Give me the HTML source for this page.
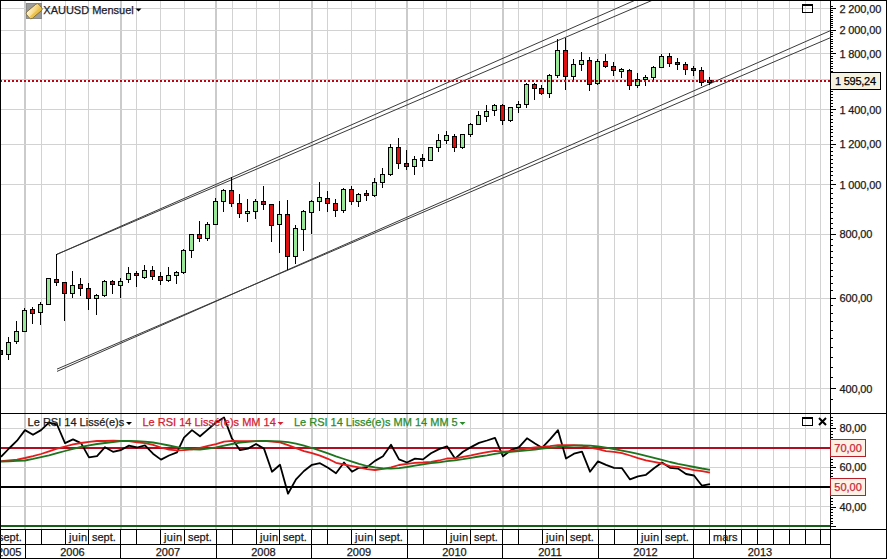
<!DOCTYPE html>
<html><head><meta charset="utf-8"><style>
html,body{margin:0;padding:0;width:887px;height:559px;overflow:hidden;background:#fff}
body{position:relative;font-family:'Liberation Sans', sans-serif}
</style></head><body>
<svg width="887" height="559" viewBox="0 0 887 559" style="position:absolute;left:0;top:0;font-family:'Liberation Sans', sans-serif;font-size:11px"><style>text{stroke-width:0.25px}</style><rect x="0" y="0" width="887" height="559" fill="#ffffff"/><g shape-rendering="crispEdges"><rect x="24" y="1" width="2" height="412" fill="#cbcbcb"/><rect x="120" y="1" width="2" height="412" fill="#cbcbcb"/><rect x="215" y="1" width="2" height="412" fill="#cbcbcb"/><rect x="311" y="1" width="2" height="412" fill="#cbcbcb"/><rect x="406" y="1" width="2" height="412" fill="#cbcbcb"/><rect x="502" y="1" width="2" height="412" fill="#cbcbcb"/><rect x="597" y="1" width="2" height="412" fill="#cbcbcb"/><rect x="693" y="1" width="2" height="412" fill="#cbcbcb"/><rect x="41" y="1" width="1" height="412" fill="#d2d2d2"/><rect x="65" y="1" width="1" height="412" fill="#d2d2d2"/><rect x="88" y="1" width="1" height="412" fill="#d2d2d2"/><rect x="136" y="1" width="1" height="412" fill="#d2d2d2"/><rect x="160" y="1" width="1" height="412" fill="#d2d2d2"/><rect x="184" y="1" width="1" height="412" fill="#d2d2d2"/><rect x="232" y="1" width="1" height="412" fill="#d2d2d2"/><rect x="256" y="1" width="1" height="412" fill="#d2d2d2"/><rect x="279" y="1" width="1" height="412" fill="#d2d2d2"/><rect x="327" y="1" width="1" height="412" fill="#d2d2d2"/><rect x="351" y="1" width="1" height="412" fill="#d2d2d2"/><rect x="375" y="1" width="1" height="412" fill="#d2d2d2"/><rect x="423" y="1" width="1" height="412" fill="#d2d2d2"/><rect x="446" y="1" width="1" height="412" fill="#d2d2d2"/><rect x="470" y="1" width="1" height="412" fill="#d2d2d2"/><rect x="518" y="1" width="1" height="412" fill="#d2d2d2"/><rect x="542" y="1" width="1" height="412" fill="#d2d2d2"/><rect x="566" y="1" width="1" height="412" fill="#d2d2d2"/><rect x="614" y="1" width="1" height="412" fill="#d2d2d2"/><rect x="637" y="1" width="1" height="412" fill="#d2d2d2"/><rect x="661" y="1" width="1" height="412" fill="#d2d2d2"/><rect x="709" y="1" width="1" height="412" fill="#d2d2d2"/><rect x="725" y="1" width="1" height="412" fill="#d2d2d2"/><rect x="741" y="1" width="1" height="412" fill="#d2d2d2"/><rect x="757" y="1" width="1" height="412" fill="#d2d2d2"/><rect x="773" y="1" width="1" height="412" fill="#d2d2d2"/><rect x="789" y="1" width="1" height="412" fill="#d2d2d2"/><rect x="805" y="1" width="1" height="412" fill="#d2d2d2"/><rect x="820" y="1" width="1" height="412" fill="#d2d2d2"/><rect x="1" y="8" width="829" height="1" fill="#d2d2d2"/><rect x="1" y="30" width="829" height="1" fill="#d2d2d2"/><rect x="1" y="53" width="829" height="1" fill="#d2d2d2"/><rect x="1" y="79" width="829" height="1" fill="#d2d2d2"/><rect x="1" y="109" width="829" height="1" fill="#d2d2d2"/><rect x="1" y="144" width="829" height="1" fill="#d2d2d2"/><rect x="1" y="184" width="829" height="1" fill="#d2d2d2"/><rect x="1" y="234" width="829" height="1" fill="#d2d2d2"/><rect x="1" y="298" width="829" height="1" fill="#d2d2d2"/><rect x="1" y="388" width="829" height="1" fill="#d2d2d2"/><rect x="24" y="414" width="2" height="115" fill="#cbcbcb"/><rect x="120" y="414" width="2" height="115" fill="#cbcbcb"/><rect x="215" y="414" width="2" height="115" fill="#cbcbcb"/><rect x="311" y="414" width="2" height="115" fill="#cbcbcb"/><rect x="406" y="414" width="2" height="115" fill="#cbcbcb"/><rect x="502" y="414" width="2" height="115" fill="#cbcbcb"/><rect x="597" y="414" width="2" height="115" fill="#cbcbcb"/><rect x="693" y="414" width="2" height="115" fill="#cbcbcb"/><rect x="41" y="414" width="1" height="115" fill="#d2d2d2"/><rect x="65" y="414" width="1" height="115" fill="#d2d2d2"/><rect x="88" y="414" width="1" height="115" fill="#d2d2d2"/><rect x="136" y="414" width="1" height="115" fill="#d2d2d2"/><rect x="160" y="414" width="1" height="115" fill="#d2d2d2"/><rect x="184" y="414" width="1" height="115" fill="#d2d2d2"/><rect x="232" y="414" width="1" height="115" fill="#d2d2d2"/><rect x="256" y="414" width="1" height="115" fill="#d2d2d2"/><rect x="279" y="414" width="1" height="115" fill="#d2d2d2"/><rect x="327" y="414" width="1" height="115" fill="#d2d2d2"/><rect x="351" y="414" width="1" height="115" fill="#d2d2d2"/><rect x="375" y="414" width="1" height="115" fill="#d2d2d2"/><rect x="423" y="414" width="1" height="115" fill="#d2d2d2"/><rect x="446" y="414" width="1" height="115" fill="#d2d2d2"/><rect x="470" y="414" width="1" height="115" fill="#d2d2d2"/><rect x="518" y="414" width="1" height="115" fill="#d2d2d2"/><rect x="542" y="414" width="1" height="115" fill="#d2d2d2"/><rect x="566" y="414" width="1" height="115" fill="#d2d2d2"/><rect x="614" y="414" width="1" height="115" fill="#d2d2d2"/><rect x="637" y="414" width="1" height="115" fill="#d2d2d2"/><rect x="661" y="414" width="1" height="115" fill="#d2d2d2"/><rect x="709" y="414" width="1" height="115" fill="#d2d2d2"/><rect x="725" y="414" width="1" height="115" fill="#d2d2d2"/><rect x="741" y="414" width="1" height="115" fill="#d2d2d2"/><rect x="757" y="414" width="1" height="115" fill="#d2d2d2"/><rect x="773" y="414" width="1" height="115" fill="#d2d2d2"/><rect x="789" y="414" width="1" height="115" fill="#d2d2d2"/><rect x="805" y="414" width="1" height="115" fill="#d2d2d2"/><rect x="820" y="414" width="1" height="115" fill="#d2d2d2"/><rect x="1" y="428" width="829" height="1" fill="#d2d2d2"/><rect x="1" y="467" width="829" height="1" fill="#d2d2d2"/><rect x="1" y="506" width="829" height="1" fill="#d2d2d2"/></g><g stroke="#3a3a3a" stroke-width="1" fill="none"><line x1="56.5" y1="254.5" x2="635.5671217292378" y2="0"/><line x1="56.5" y1="254.5" x2="652.9377782985704" y2="0"/><line x1="57" y1="371.4" x2="830" y2="30.81619999999998"/><line x1="57" y1="369.1" x2="830" y2="37.869500000000016"/></g><g shape-rendering="crispEdges"><rect x="0" y="350" width="1" height="5" fill="#000"/><rect x="-2" y="350" width="5" height="5" fill="#000"/><rect x="-1" y="351" width="3" height="3" fill="#e01010"/><rect x="8" y="337" width="1" height="23" fill="#000"/><rect x="6" y="342" width="5" height="13" fill="#000"/><rect x="7" y="343" width="3" height="11" fill="#98e898"/><rect x="16" y="321" width="1" height="23" fill="#000"/><rect x="14" y="331" width="5" height="11" fill="#000"/><rect x="15" y="332" width="3" height="9" fill="#98e898"/><rect x="24" y="308" width="1" height="24" fill="#000"/><rect x="22" y="310" width="5" height="22" fill="#000"/><rect x="23" y="311" width="3" height="20" fill="#98e898"/><rect x="32" y="307" width="1" height="17" fill="#000"/><rect x="30" y="309" width="5" height="5" fill="#000"/><rect x="31" y="310" width="3" height="3" fill="#e01010"/><rect x="40" y="302" width="1" height="23" fill="#000"/><rect x="38" y="304" width="5" height="9" fill="#000"/><rect x="39" y="305" width="3" height="7" fill="#98e898"/><rect x="48" y="278" width="1" height="27" fill="#000"/><rect x="46" y="278" width="5" height="27" fill="#000"/><rect x="47" y="279" width="3" height="25" fill="#98e898"/><rect x="56" y="254" width="1" height="32" fill="#000"/><rect x="54" y="279" width="5" height="4" fill="#000"/><rect x="55" y="280" width="3" height="2" fill="#b01828"/><rect x="64" y="282" width="1" height="39" fill="#000"/><rect x="62" y="282" width="5" height="12" fill="#000"/><rect x="63" y="283" width="3" height="10" fill="#e01010"/><rect x="72" y="271" width="1" height="27" fill="#000"/><rect x="70" y="285" width="5" height="9" fill="#000"/><rect x="71" y="286" width="3" height="7" fill="#98e898"/><rect x="80" y="278" width="1" height="18" fill="#000"/><rect x="78" y="284" width="5" height="5" fill="#000"/><rect x="79" y="285" width="3" height="3" fill="#e01010"/><rect x="88" y="283" width="1" height="27" fill="#000"/><rect x="86" y="288" width="5" height="11" fill="#000"/><rect x="87" y="289" width="3" height="9" fill="#e01010"/><rect x="96" y="294" width="1" height="21" fill="#000"/><rect x="94" y="295" width="5" height="4" fill="#000"/><rect x="95" y="296" width="3" height="2" fill="#98e898"/><rect x="104" y="280" width="1" height="17" fill="#000"/><rect x="102" y="281" width="5" height="15" fill="#000"/><rect x="103" y="282" width="3" height="13" fill="#98e898"/><rect x="112" y="280" width="1" height="14" fill="#000"/><rect x="110" y="281" width="5" height="4" fill="#000"/><rect x="111" y="282" width="3" height="2" fill="#b01828"/><rect x="120" y="278" width="1" height="20" fill="#000"/><rect x="118" y="281" width="5" height="5" fill="#000"/><rect x="119" y="282" width="3" height="3" fill="#98e898"/><rect x="128" y="267" width="1" height="16" fill="#000"/><rect x="126" y="273" width="5" height="7" fill="#000"/><rect x="127" y="274" width="3" height="5" fill="#98e898"/><rect x="136" y="271" width="1" height="16" fill="#000"/><rect x="134" y="273" width="5" height="3" fill="#000"/><rect x="135" y="274" width="3" height="1" fill="#b01828"/><rect x="144" y="265" width="1" height="14" fill="#000"/><rect x="142" y="270" width="5" height="8" fill="#000"/><rect x="143" y="271" width="3" height="6" fill="#98e898"/><rect x="152" y="266" width="1" height="14" fill="#000"/><rect x="150" y="270" width="5" height="7" fill="#000"/><rect x="151" y="271" width="3" height="5" fill="#e01010"/><rect x="160" y="272" width="1" height="13" fill="#000"/><rect x="158" y="276" width="5" height="5" fill="#000"/><rect x="159" y="277" width="3" height="3" fill="#e01010"/><rect x="168" y="267" width="1" height="15" fill="#000"/><rect x="166" y="275" width="5" height="6" fill="#000"/><rect x="167" y="276" width="3" height="4" fill="#98e898"/><rect x="176" y="271" width="1" height="13" fill="#000"/><rect x="174" y="272" width="5" height="4" fill="#000"/><rect x="175" y="273" width="3" height="2" fill="#98e898"/><rect x="183" y="249" width="1" height="25" fill="#000"/><rect x="181" y="250" width="5" height="23" fill="#000"/><rect x="182" y="251" width="3" height="21" fill="#98e898"/><rect x="191" y="234" width="1" height="24" fill="#000"/><rect x="189" y="234" width="5" height="17" fill="#000"/><rect x="190" y="235" width="3" height="15" fill="#98e898"/><rect x="199" y="221" width="1" height="21" fill="#000"/><rect x="197" y="234" width="5" height="5" fill="#000"/><rect x="198" y="235" width="3" height="3" fill="#e01010"/><rect x="207" y="222" width="1" height="19" fill="#000"/><rect x="205" y="224" width="5" height="15" fill="#000"/><rect x="206" y="225" width="3" height="13" fill="#98e898"/><rect x="215" y="198" width="1" height="27" fill="#000"/><rect x="213" y="201" width="5" height="24" fill="#000"/><rect x="214" y="202" width="3" height="22" fill="#98e898"/><rect x="223" y="189" width="1" height="23" fill="#000"/><rect x="221" y="190" width="5" height="12" fill="#000"/><rect x="222" y="191" width="3" height="10" fill="#98e898"/><rect x="231" y="177" width="1" height="30" fill="#000"/><rect x="229" y="190" width="5" height="14" fill="#000"/><rect x="230" y="191" width="3" height="12" fill="#e01010"/><rect x="239" y="194" width="1" height="24" fill="#000"/><rect x="237" y="203" width="5" height="11" fill="#000"/><rect x="238" y="204" width="3" height="9" fill="#e01010"/><rect x="247" y="199" width="1" height="23" fill="#000"/><rect x="245" y="211" width="5" height="3" fill="#000"/><rect x="246" y="212" width="3" height="1" fill="#98e898"/><rect x="255" y="199" width="1" height="20" fill="#000"/><rect x="253" y="201" width="5" height="11" fill="#000"/><rect x="254" y="202" width="3" height="9" fill="#98e898"/><rect x="263" y="186" width="1" height="24" fill="#000"/><rect x="261" y="201" width="5" height="4" fill="#000"/><rect x="262" y="202" width="3" height="2" fill="#b01828"/><rect x="271" y="204" width="1" height="38" fill="#000"/><rect x="269" y="204" width="5" height="22" fill="#000"/><rect x="270" y="205" width="3" height="20" fill="#e01010"/><rect x="279" y="201" width="1" height="52" fill="#000"/><rect x="277" y="214" width="5" height="11" fill="#000"/><rect x="278" y="215" width="3" height="9" fill="#98e898"/><rect x="287" y="200" width="1" height="70" fill="#000"/><rect x="285" y="214" width="5" height="43" fill="#000"/><rect x="286" y="215" width="3" height="41" fill="#e01010"/><rect x="295" y="225" width="1" height="39" fill="#000"/><rect x="293" y="228" width="5" height="29" fill="#000"/><rect x="294" y="229" width="3" height="27" fill="#98e898"/><rect x="303" y="210" width="1" height="41" fill="#000"/><rect x="301" y="211" width="5" height="19" fill="#000"/><rect x="302" y="212" width="3" height="17" fill="#98e898"/><rect x="311" y="200" width="1" height="34" fill="#000"/><rect x="309" y="201" width="5" height="12" fill="#000"/><rect x="310" y="202" width="3" height="10" fill="#98e898"/><rect x="319" y="182" width="1" height="29" fill="#000"/><rect x="317" y="197" width="5" height="5" fill="#000"/><rect x="318" y="198" width="3" height="3" fill="#98e898"/><rect x="327" y="191" width="1" height="21" fill="#000"/><rect x="325" y="198" width="5" height="6" fill="#000"/><rect x="326" y="199" width="3" height="4" fill="#e01010"/><rect x="335" y="199" width="1" height="18" fill="#000"/><rect x="333" y="203" width="5" height="8" fill="#000"/><rect x="334" y="204" width="3" height="6" fill="#e01010"/><rect x="343" y="188" width="1" height="25" fill="#000"/><rect x="341" y="189" width="5" height="22" fill="#000"/><rect x="342" y="190" width="3" height="20" fill="#98e898"/><rect x="351" y="186" width="1" height="19" fill="#000"/><rect x="349" y="189" width="5" height="13" fill="#000"/><rect x="350" y="190" width="3" height="11" fill="#e01010"/><rect x="358" y="193" width="1" height="14" fill="#000"/><rect x="356" y="194" width="5" height="8" fill="#000"/><rect x="357" y="195" width="3" height="6" fill="#98e898"/><rect x="366" y="190" width="1" height="11" fill="#000"/><rect x="364" y="193" width="5" height="3" fill="#000"/><rect x="365" y="194" width="3" height="1" fill="#b01828"/><rect x="374" y="178" width="1" height="19" fill="#000"/><rect x="372" y="182" width="5" height="14" fill="#000"/><rect x="373" y="183" width="3" height="12" fill="#98e898"/><rect x="382" y="168" width="1" height="20" fill="#000"/><rect x="380" y="174" width="5" height="9" fill="#000"/><rect x="381" y="175" width="3" height="7" fill="#98e898"/><rect x="390" y="144" width="1" height="32" fill="#000"/><rect x="388" y="147" width="5" height="28" fill="#000"/><rect x="389" y="148" width="3" height="26" fill="#98e898"/><rect x="398" y="138" width="1" height="31" fill="#000"/><rect x="396" y="147" width="5" height="17" fill="#000"/><rect x="397" y="148" width="3" height="15" fill="#e01010"/><rect x="406" y="150" width="1" height="20" fill="#000"/><rect x="404" y="163" width="5" height="4" fill="#000"/><rect x="405" y="164" width="3" height="2" fill="#b01828"/><rect x="414" y="156" width="1" height="19" fill="#000"/><rect x="412" y="159" width="5" height="8" fill="#000"/><rect x="413" y="160" width="3" height="6" fill="#98e898"/><rect x="422" y="154" width="1" height="13" fill="#000"/><rect x="420" y="158" width="5" height="3" fill="#000"/><rect x="421" y="159" width="3" height="1" fill="#b01828"/><rect x="430" y="147" width="1" height="13" fill="#000"/><rect x="428" y="147" width="5" height="14" fill="#000"/><rect x="429" y="148" width="3" height="12" fill="#98e898"/><rect x="438" y="134" width="1" height="18" fill="#000"/><rect x="436" y="140" width="5" height="8" fill="#000"/><rect x="437" y="141" width="3" height="6" fill="#98e898"/><rect x="446" y="131" width="1" height="13" fill="#000"/><rect x="444" y="135" width="5" height="6" fill="#000"/><rect x="445" y="136" width="3" height="4" fill="#98e898"/><rect x="454" y="134" width="1" height="18" fill="#000"/><rect x="452" y="136" width="5" height="12" fill="#000"/><rect x="453" y="137" width="3" height="10" fill="#e01010"/><rect x="462" y="134" width="1" height="15" fill="#000"/><rect x="460" y="134" width="5" height="14" fill="#000"/><rect x="461" y="135" width="3" height="12" fill="#98e898"/><rect x="470" y="123" width="1" height="14" fill="#000"/><rect x="468" y="124" width="5" height="11" fill="#000"/><rect x="469" y="125" width="3" height="9" fill="#98e898"/><rect x="478" y="111" width="1" height="13" fill="#000"/><rect x="476" y="115" width="5" height="10" fill="#000"/><rect x="477" y="116" width="3" height="8" fill="#98e898"/><rect x="486" y="105" width="1" height="17" fill="#000"/><rect x="484" y="111" width="5" height="6" fill="#000"/><rect x="485" y="112" width="3" height="4" fill="#98e898"/><rect x="494" y="104" width="1" height="12" fill="#000"/><rect x="492" y="105" width="5" height="6" fill="#000"/><rect x="493" y="106" width="3" height="4" fill="#98e898"/><rect x="502" y="104" width="1" height="21" fill="#000"/><rect x="500" y="105" width="5" height="16" fill="#000"/><rect x="501" y="106" width="3" height="14" fill="#e01010"/><rect x="510" y="107" width="1" height="15" fill="#000"/><rect x="508" y="107" width="5" height="14" fill="#000"/><rect x="509" y="108" width="3" height="12" fill="#98e898"/><rect x="518" y="101" width="1" height="12" fill="#000"/><rect x="516" y="104" width="5" height="4" fill="#000"/><rect x="517" y="105" width="3" height="2" fill="#98e898"/><rect x="526" y="83" width="1" height="25" fill="#000"/><rect x="524" y="84" width="5" height="21" fill="#000"/><rect x="525" y="85" width="3" height="19" fill="#98e898"/><rect x="534" y="83" width="1" height="17" fill="#000"/><rect x="532" y="84" width="5" height="5" fill="#000"/><rect x="533" y="85" width="3" height="3" fill="#e01010"/><rect x="541" y="85" width="1" height="10" fill="#000"/><rect x="539" y="88" width="5" height="6" fill="#000"/><rect x="540" y="89" width="3" height="4" fill="#e01010"/><rect x="549" y="74" width="1" height="24" fill="#000"/><rect x="547" y="75" width="5" height="19" fill="#000"/><rect x="548" y="76" width="3" height="17" fill="#98e898"/><rect x="557" y="39" width="1" height="39" fill="#000"/><rect x="555" y="50" width="5" height="26" fill="#000"/><rect x="556" y="51" width="3" height="24" fill="#98e898"/><rect x="565" y="38" width="1" height="52" fill="#000"/><rect x="563" y="50" width="5" height="27" fill="#000"/><rect x="564" y="51" width="3" height="25" fill="#e01010"/><rect x="573" y="59" width="1" height="21" fill="#000"/><rect x="571" y="64" width="5" height="13" fill="#000"/><rect x="572" y="65" width="3" height="11" fill="#98e898"/><rect x="581" y="52" width="1" height="19" fill="#000"/><rect x="579" y="60" width="5" height="5" fill="#000"/><rect x="580" y="61" width="3" height="3" fill="#98e898"/><rect x="589" y="57" width="1" height="34" fill="#000"/><rect x="587" y="60" width="5" height="25" fill="#000"/><rect x="588" y="61" width="3" height="23" fill="#e01010"/><rect x="597" y="59" width="1" height="26" fill="#000"/><rect x="595" y="61" width="5" height="23" fill="#000"/><rect x="596" y="62" width="3" height="21" fill="#98e898"/><rect x="605" y="54" width="1" height="14" fill="#000"/><rect x="603" y="61" width="5" height="6" fill="#000"/><rect x="604" y="62" width="3" height="4" fill="#e01010"/><rect x="613" y="62" width="1" height="14" fill="#000"/><rect x="611" y="66" width="5" height="5" fill="#000"/><rect x="612" y="67" width="3" height="3" fill="#e01010"/><rect x="621" y="68" width="1" height="10" fill="#000"/><rect x="619" y="69" width="5" height="3" fill="#000"/><rect x="620" y="70" width="3" height="1" fill="#98e898"/><rect x="629" y="69" width="1" height="21" fill="#000"/><rect x="627" y="70" width="5" height="16" fill="#000"/><rect x="628" y="71" width="3" height="14" fill="#e01010"/><rect x="637" y="73" width="1" height="15" fill="#000"/><rect x="635" y="79" width="5" height="7" fill="#000"/><rect x="636" y="80" width="3" height="5" fill="#98e898"/><rect x="645" y="75" width="1" height="11" fill="#000"/><rect x="643" y="77" width="5" height="3" fill="#000"/><rect x="644" y="78" width="3" height="1" fill="#98e898"/><rect x="653" y="66" width="1" height="14" fill="#000"/><rect x="651" y="67" width="5" height="11" fill="#000"/><rect x="652" y="68" width="3" height="9" fill="#98e898"/><rect x="661" y="54" width="1" height="14" fill="#000"/><rect x="659" y="56" width="5" height="12" fill="#000"/><rect x="660" y="57" width="3" height="10" fill="#98e898"/><rect x="669" y="53" width="1" height="14" fill="#000"/><rect x="667" y="56" width="5" height="8" fill="#000"/><rect x="668" y="57" width="3" height="6" fill="#e01010"/><rect x="677" y="58" width="1" height="12" fill="#000"/><rect x="675" y="62" width="5" height="3" fill="#000"/><rect x="676" y="63" width="3" height="1" fill="#b01828"/><rect x="685" y="62" width="1" height="13" fill="#000"/><rect x="683" y="64" width="5" height="6" fill="#000"/><rect x="684" y="65" width="3" height="4" fill="#e01010"/><rect x="693" y="66" width="1" height="10" fill="#000"/><rect x="691" y="68" width="5" height="3" fill="#000"/><rect x="692" y="69" width="3" height="1" fill="#b01828"/><rect x="701" y="67" width="1" height="19" fill="#000"/><rect x="699" y="70" width="5" height="13" fill="#000"/><rect x="700" y="71" width="3" height="11" fill="#e01010"/><rect x="709" y="77" width="1" height="8" fill="#000"/><rect x="707" y="80" width="5" height="3" fill="#000"/><rect x="708" y="81" width="3" height="1" fill="#b01828"/></g><g shape-rendering="crispEdges" fill="#c2000e"><rect x="0" y="80" width="2" height="2"/><rect x="4" y="80" width="2" height="2"/><rect x="8" y="80" width="2" height="2"/><rect x="12" y="80" width="2" height="2"/><rect x="16" y="80" width="2" height="2"/><rect x="20" y="80" width="2" height="2"/><rect x="24" y="80" width="2" height="2"/><rect x="28" y="80" width="2" height="2"/><rect x="32" y="80" width="2" height="2"/><rect x="36" y="80" width="2" height="2"/><rect x="40" y="80" width="2" height="2"/><rect x="44" y="80" width="2" height="2"/><rect x="48" y="80" width="2" height="2"/><rect x="52" y="80" width="2" height="2"/><rect x="56" y="80" width="2" height="2"/><rect x="60" y="80" width="2" height="2"/><rect x="64" y="80" width="2" height="2"/><rect x="68" y="80" width="2" height="2"/><rect x="72" y="80" width="2" height="2"/><rect x="76" y="80" width="2" height="2"/><rect x="80" y="80" width="2" height="2"/><rect x="84" y="80" width="2" height="2"/><rect x="88" y="80" width="2" height="2"/><rect x="92" y="80" width="2" height="2"/><rect x="96" y="80" width="2" height="2"/><rect x="100" y="80" width="2" height="2"/><rect x="104" y="80" width="2" height="2"/><rect x="108" y="80" width="2" height="2"/><rect x="112" y="80" width="2" height="2"/><rect x="116" y="80" width="2" height="2"/><rect x="120" y="80" width="2" height="2"/><rect x="124" y="80" width="2" height="2"/><rect x="128" y="80" width="2" height="2"/><rect x="132" y="80" width="2" height="2"/><rect x="136" y="80" width="2" height="2"/><rect x="140" y="80" width="2" height="2"/><rect x="144" y="80" width="2" height="2"/><rect x="148" y="80" width="2" height="2"/><rect x="152" y="80" width="2" height="2"/><rect x="156" y="80" width="2" height="2"/><rect x="160" y="80" width="2" height="2"/><rect x="164" y="80" width="2" height="2"/><rect x="168" y="80" width="2" height="2"/><rect x="172" y="80" width="2" height="2"/><rect x="176" y="80" width="2" height="2"/><rect x="180" y="80" width="2" height="2"/><rect x="184" y="80" width="2" height="2"/><rect x="188" y="80" width="2" height="2"/><rect x="192" y="80" width="2" height="2"/><rect x="196" y="80" width="2" height="2"/><rect x="200" y="80" width="2" height="2"/><rect x="204" y="80" width="2" height="2"/><rect x="208" y="80" width="2" height="2"/><rect x="212" y="80" width="2" height="2"/><rect x="216" y="80" width="2" height="2"/><rect x="220" y="80" width="2" height="2"/><rect x="224" y="80" width="2" height="2"/><rect x="228" y="80" width="2" height="2"/><rect x="232" y="80" width="2" height="2"/><rect x="236" y="80" width="2" height="2"/><rect x="240" y="80" width="2" height="2"/><rect x="244" y="80" width="2" height="2"/><rect x="248" y="80" width="2" height="2"/><rect x="252" y="80" width="2" height="2"/><rect x="256" y="80" width="2" height="2"/><rect x="260" y="80" width="2" height="2"/><rect x="264" y="80" width="2" height="2"/><rect x="268" y="80" width="2" height="2"/><rect x="272" y="80" width="2" height="2"/><rect x="276" y="80" width="2" height="2"/><rect x="280" y="80" width="2" height="2"/><rect x="284" y="80" width="2" height="2"/><rect x="288" y="80" width="2" height="2"/><rect x="292" y="80" width="2" height="2"/><rect x="296" y="80" width="2" height="2"/><rect x="300" y="80" width="2" height="2"/><rect x="304" y="80" width="2" height="2"/><rect x="308" y="80" width="2" height="2"/><rect x="312" y="80" width="2" height="2"/><rect x="316" y="80" width="2" height="2"/><rect x="320" y="80" width="2" height="2"/><rect x="324" y="80" width="2" height="2"/><rect x="328" y="80" width="2" height="2"/><rect x="332" y="80" width="2" height="2"/><rect x="336" y="80" width="2" height="2"/><rect x="340" y="80" width="2" height="2"/><rect x="344" y="80" width="2" height="2"/><rect x="348" y="80" width="2" height="2"/><rect x="352" y="80" width="2" height="2"/><rect x="356" y="80" width="2" height="2"/><rect x="360" y="80" width="2" height="2"/><rect x="364" y="80" width="2" height="2"/><rect x="368" y="80" width="2" height="2"/><rect x="372" y="80" width="2" height="2"/><rect x="376" y="80" width="2" height="2"/><rect x="380" y="80" width="2" height="2"/><rect x="384" y="80" width="2" height="2"/><rect x="388" y="80" width="2" height="2"/><rect x="392" y="80" width="2" height="2"/><rect x="396" y="80" width="2" height="2"/><rect x="400" y="80" width="2" height="2"/><rect x="404" y="80" width="2" height="2"/><rect x="408" y="80" width="2" height="2"/><rect x="412" y="80" width="2" height="2"/><rect x="416" y="80" width="2" height="2"/><rect x="420" y="80" width="2" height="2"/><rect x="424" y="80" width="2" height="2"/><rect x="428" y="80" width="2" height="2"/><rect x="432" y="80" width="2" height="2"/><rect x="436" y="80" width="2" height="2"/><rect x="440" y="80" width="2" height="2"/><rect x="444" y="80" width="2" height="2"/><rect x="448" y="80" width="2" height="2"/><rect x="452" y="80" width="2" height="2"/><rect x="456" y="80" width="2" height="2"/><rect x="460" y="80" width="2" height="2"/><rect x="464" y="80" width="2" height="2"/><rect x="468" y="80" width="2" height="2"/><rect x="472" y="80" width="2" height="2"/><rect x="476" y="80" width="2" height="2"/><rect x="480" y="80" width="2" height="2"/><rect x="484" y="80" width="2" height="2"/><rect x="488" y="80" width="2" height="2"/><rect x="492" y="80" width="2" height="2"/><rect x="496" y="80" width="2" height="2"/><rect x="500" y="80" width="2" height="2"/><rect x="504" y="80" width="2" height="2"/><rect x="508" y="80" width="2" height="2"/><rect x="512" y="80" width="2" height="2"/><rect x="516" y="80" width="2" height="2"/><rect x="520" y="80" width="2" height="2"/><rect x="524" y="80" width="2" height="2"/><rect x="528" y="80" width="2" height="2"/><rect x="532" y="80" width="2" height="2"/><rect x="536" y="80" width="2" height="2"/><rect x="540" y="80" width="2" height="2"/><rect x="544" y="80" width="2" height="2"/><rect x="548" y="80" width="2" height="2"/><rect x="552" y="80" width="2" height="2"/><rect x="556" y="80" width="2" height="2"/><rect x="560" y="80" width="2" height="2"/><rect x="564" y="80" width="2" height="2"/><rect x="568" y="80" width="2" height="2"/><rect x="572" y="80" width="2" height="2"/><rect x="576" y="80" width="2" height="2"/><rect x="580" y="80" width="2" height="2"/><rect x="584" y="80" width="2" height="2"/><rect x="588" y="80" width="2" height="2"/><rect x="592" y="80" width="2" height="2"/><rect x="596" y="80" width="2" height="2"/><rect x="600" y="80" width="2" height="2"/><rect x="604" y="80" width="2" height="2"/><rect x="608" y="80" width="2" height="2"/><rect x="612" y="80" width="2" height="2"/><rect x="616" y="80" width="2" height="2"/><rect x="620" y="80" width="2" height="2"/><rect x="624" y="80" width="2" height="2"/><rect x="628" y="80" width="2" height="2"/><rect x="632" y="80" width="2" height="2"/><rect x="636" y="80" width="2" height="2"/><rect x="640" y="80" width="2" height="2"/><rect x="644" y="80" width="2" height="2"/><rect x="648" y="80" width="2" height="2"/><rect x="652" y="80" width="2" height="2"/><rect x="656" y="80" width="2" height="2"/><rect x="660" y="80" width="2" height="2"/><rect x="664" y="80" width="2" height="2"/><rect x="668" y="80" width="2" height="2"/><rect x="672" y="80" width="2" height="2"/><rect x="676" y="80" width="2" height="2"/><rect x="680" y="80" width="2" height="2"/><rect x="684" y="80" width="2" height="2"/><rect x="688" y="80" width="2" height="2"/><rect x="692" y="80" width="2" height="2"/><rect x="696" y="80" width="2" height="2"/><rect x="700" y="80" width="2" height="2"/><rect x="704" y="80" width="2" height="2"/><rect x="708" y="80" width="2" height="2"/><rect x="712" y="80" width="2" height="2"/><rect x="716" y="80" width="2" height="2"/><rect x="720" y="80" width="2" height="2"/><rect x="724" y="80" width="2" height="2"/><rect x="728" y="80" width="2" height="2"/><rect x="732" y="80" width="2" height="2"/><rect x="736" y="80" width="2" height="2"/><rect x="740" y="80" width="2" height="2"/><rect x="744" y="80" width="2" height="2"/><rect x="748" y="80" width="2" height="2"/><rect x="752" y="80" width="2" height="2"/><rect x="756" y="80" width="2" height="2"/><rect x="760" y="80" width="2" height="2"/><rect x="764" y="80" width="2" height="2"/><rect x="768" y="80" width="2" height="2"/><rect x="772" y="80" width="2" height="2"/><rect x="776" y="80" width="2" height="2"/><rect x="780" y="80" width="2" height="2"/><rect x="784" y="80" width="2" height="2"/><rect x="788" y="80" width="2" height="2"/><rect x="792" y="80" width="2" height="2"/><rect x="796" y="80" width="2" height="2"/><rect x="800" y="80" width="2" height="2"/><rect x="804" y="80" width="2" height="2"/><rect x="808" y="80" width="2" height="2"/><rect x="812" y="80" width="2" height="2"/><rect x="816" y="80" width="2" height="2"/><rect x="820" y="80" width="2" height="2"/><rect x="824" y="80" width="2" height="2"/><rect x="828" y="80" width="2" height="2"/></g><g shape-rendering="crispEdges"><rect x="1" y="447" width="829" height="2" fill="#b00e20"/><rect x="1" y="486" width="829" height="2" fill="#000"/><rect x="1" y="525" width="829" height="2" fill="#155e18"/></g><svg x="1" y="414" width="829" height="114" viewBox="1 414 829 114" overflow="hidden"><polyline points="1.0,456.8 9.0,448.5 17.0,440.7 25.0,430.1 33.0,434.8 41.0,430.1 49.0,422.7 57.0,424.5 65.0,443.1 73.0,439.4 81.0,443.1 89.0,457.4 97.0,456.2 105.0,447.2 113.0,451.8 121.0,450.0 129.0,445.6 137.0,447.5 145.0,445.3 153.0,453.7 161.0,459.6 169.0,455.5 177.0,452.4 184.0,437.6 192.0,430.1 200.0,436.3 208.0,429.4 216.0,422.5 224.0,417.4 232.0,438.6 240.0,450.2 248.0,448.6 256.0,444.0 264.0,448.6 272.0,471.7 280.0,464.8 288.0,493.7 296.0,479.4 304.0,471.0 312.0,464.8 320.0,463.2 328.0,467.8 336.0,473.2 344.0,462.5 352.0,471.7 359.0,467.8 367.0,467.1 375.0,460.9 383.0,456.3 391.0,444.8 399.0,459.4 407.0,462.5 415.0,458.6 423.0,459.4 431.0,453.2 439.0,449.1 447.0,446.3 455.0,458.6 463.0,451.7 471.0,447.1 479.0,442.9 487.0,440.5 495.0,437.8 503.0,456.3 511.0,450.2 519.0,447.1 527.0,438.3 535.0,443.5 542.0,447.8 550.0,439.4 558.0,430.2 566.0,458.6 574.0,453.7 582.0,451.7 590.0,471.7 598.0,461.4 606.0,464.8 614.0,467.8 622.0,468.2 630.0,479.4 638.0,476.3 646.0,474.8 654.0,468.2 662.0,462.5 670.0,467.8 678.0,468.6 686.0,474.0 694.0,475.5 702.0,485.7 710.0,484.2" fill="none" stroke="#000" stroke-width="1.8" stroke-linejoin="round"/><polyline points="1.0,461.1 9.0,460.3 17.0,459.6 25.0,458.0 33.0,456.1 41.0,454.0 49.0,451.3 57.0,448.6 65.0,446.5 73.0,444.4 81.0,443.0 89.0,441.8 97.0,441.0 105.0,441.0 113.0,440.7 121.0,440.8 129.0,441.1 137.0,442.4 145.0,443.1 153.0,444.8 161.0,447.5 169.0,449.7 177.0,450.3 184.0,450.2 192.0,449.3 200.0,447.8 208.0,445.9 216.0,444.1 224.0,441.6 232.0,440.8 240.0,441.2 248.0,441.2 256.0,441.1 264.0,440.8 272.0,441.6 280.0,442.3 288.0,445.2 296.0,448.2 304.0,451.2 312.0,453.2 320.0,455.6 328.0,458.8 336.0,462.8 344.0,464.5 352.0,466.1 359.0,467.4 367.0,469.1 375.0,470.0 383.0,468.9 391.0,467.4 399.0,465.0 407.0,463.8 415.0,462.9 423.0,462.5 431.0,461.8 439.0,460.5 447.0,458.5 455.0,458.3 463.0,456.8 471.0,455.4 479.0,453.6 487.0,452.2 495.0,450.8 503.0,451.7 511.0,451.0 519.0,449.9 527.0,448.5 535.0,447.3 542.0,446.9 550.0,446.2 558.0,445.1 566.0,445.1 574.0,445.2 582.0,445.6 590.0,447.6 598.0,449.1 606.0,451.1 614.0,451.9 622.0,453.2 630.0,455.5 638.0,458.2 646.0,460.4 654.0,461.9 662.0,463.5 670.0,466.2 678.0,466.9 686.0,468.4 694.0,470.1 702.0,471.1 710.0,472.7" fill="none" stroke="#e41c1c" stroke-width="1.8" stroke-linejoin="round"/><polyline points="1.0,461.7 9.0,461.3 17.0,460.9 25.0,460.5 33.0,458.9 41.0,457.1 49.0,455.3 57.0,453.1 65.0,451.0 73.0,448.8 81.0,447.0 89.0,445.4 97.0,444.0 105.0,443.0 113.0,442.0 121.0,441.0 129.0,441.0 137.0,441.2 145.0,441.6 153.0,442.5 161.0,443.8 169.0,445.5 177.0,447.1 184.0,448.5 192.0,449.4 200.0,449.5 208.0,448.7 216.0,447.4 224.0,445.7 232.0,444.0 240.0,442.7 248.0,441.8 256.0,441.2 264.0,441.0 272.0,441.2 280.0,441.4 288.0,442.2 296.0,443.6 304.0,445.7 312.0,448.0 320.0,450.7 328.0,453.4 336.0,456.3 344.0,459.0 352.0,461.6 359.0,463.9 367.0,466.0 375.0,467.4 383.0,468.3 391.0,468.6 399.0,468.1 407.0,467.0 415.0,465.6 423.0,464.3 431.0,463.2 439.0,462.3 447.0,461.2 455.0,460.3 463.0,459.2 471.0,457.9 479.0,456.5 487.0,455.3 495.0,453.8 503.0,452.7 511.0,451.9 519.0,451.1 527.0,450.4 535.0,449.7 542.0,448.7 550.0,447.8 558.0,446.8 566.0,446.1 574.0,445.7 582.0,445.5 590.0,445.7 598.0,446.5 606.0,447.7 614.0,449.0 622.0,450.6 630.0,452.1 638.0,453.9 646.0,455.8 654.0,457.8 662.0,459.9 670.0,462.0 678.0,463.8 686.0,465.4 694.0,467.0 702.0,468.5 710.0,469.8" fill="none" stroke="#1d741d" stroke-width="1.8" stroke-linejoin="round"/></svg><g shape-rendering="crispEdges" fill="#000"><rect x="0" y="0" width="887" height="1"/><rect x="0" y="0" width="1" height="559"/><rect x="886" y="0" width="1" height="559"/><rect x="0" y="558" width="887" height="1"/><rect x="0" y="413" width="887" height="1"/><rect x="0" y="529" width="887" height="1"/><rect x="0" y="544" width="830" height="1"/><rect x="830" y="0" width="1" height="559"/></g><g shape-rendering="crispEdges" fill="#000"><rect x="831" y="399" width="2" height="1"/><rect x="831" y="388" width="5" height="1"/><rect x="831" y="377" width="2" height="1"/><rect x="831" y="367" width="2" height="1"/><rect x="831" y="357" width="2" height="1"/><rect x="831" y="347" width="2" height="1"/><rect x="831" y="338" width="2" height="1"/><rect x="831" y="330" width="2" height="1"/><rect x="831" y="321" width="2" height="1"/><rect x="831" y="313" width="2" height="1"/><rect x="831" y="305" width="2" height="1"/><rect x="831" y="298" width="5" height="1"/><rect x="831" y="290" width="2" height="1"/><rect x="831" y="283" width="2" height="1"/><rect x="831" y="276" width="2" height="1"/><rect x="831" y="270" width="2" height="1"/><rect x="831" y="263" width="2" height="1"/><rect x="831" y="257" width="2" height="1"/><rect x="831" y="251" width="2" height="1"/><rect x="831" y="245" width="2" height="1"/><rect x="831" y="239" width="2" height="1"/><rect x="831" y="234" width="5" height="1"/><rect x="831" y="228" width="2" height="1"/><rect x="831" y="223" width="2" height="1"/><rect x="831" y="218" width="2" height="1"/><rect x="831" y="212" width="2" height="1"/><rect x="831" y="207" width="2" height="1"/><rect x="831" y="203" width="2" height="1"/><rect x="831" y="198" width="2" height="1"/><rect x="831" y="193" width="2" height="1"/><rect x="831" y="188" width="2" height="1"/><rect x="831" y="184" width="5" height="1"/><rect x="831" y="180" width="2" height="1"/><rect x="831" y="175" width="2" height="1"/><rect x="831" y="171" width="2" height="1"/><rect x="831" y="167" width="2" height="1"/><rect x="831" y="163" width="2" height="1"/><rect x="831" y="159" width="2" height="1"/><rect x="831" y="155" width="2" height="1"/><rect x="831" y="151" width="2" height="1"/><rect x="831" y="147" width="2" height="1"/><rect x="831" y="144" width="5" height="1"/><rect x="831" y="140" width="2" height="1"/><rect x="831" y="136" width="2" height="1"/><rect x="831" y="132" width="2" height="1"/><rect x="831" y="129" width="2" height="1"/><rect x="831" y="126" width="2" height="1"/><rect x="831" y="122" width="2" height="1"/><rect x="831" y="119" width="2" height="1"/><rect x="831" y="115" width="2" height="1"/><rect x="831" y="112" width="2" height="1"/><rect x="831" y="109" width="5" height="1"/><rect x="831" y="106" width="2" height="1"/><rect x="831" y="103" width="2" height="1"/><rect x="831" y="100" width="2" height="1"/><rect x="831" y="97" width="2" height="1"/><rect x="831" y="94" width="2" height="1"/><rect x="831" y="91" width="2" height="1"/><rect x="831" y="88" width="2" height="1"/><rect x="831" y="85" width="2" height="1"/><rect x="831" y="82" width="2" height="1"/><rect x="831" y="79" width="5" height="1"/><rect x="831" y="77" width="2" height="1"/><rect x="831" y="74" width="2" height="1"/><rect x="831" y="71" width="2" height="1"/><rect x="831" y="68" width="2" height="1"/><rect x="831" y="66" width="2" height="1"/><rect x="831" y="63" width="2" height="1"/><rect x="831" y="61" width="2" height="1"/><rect x="831" y="58" width="2" height="1"/><rect x="831" y="56" width="2" height="1"/><rect x="831" y="53" width="5" height="1"/><rect x="831" y="51" width="2" height="1"/><rect x="831" y="48" width="2" height="1"/><rect x="831" y="46" width="2" height="1"/><rect x="831" y="43" width="2" height="1"/><rect x="831" y="41" width="2" height="1"/><rect x="831" y="39" width="2" height="1"/><rect x="831" y="36" width="2" height="1"/><rect x="831" y="34" width="2" height="1"/><rect x="831" y="32" width="2" height="1"/><rect x="831" y="30" width="5" height="1"/><rect x="831" y="27" width="2" height="1"/><rect x="831" y="25" width="2" height="1"/><rect x="831" y="23" width="2" height="1"/><rect x="831" y="21" width="2" height="1"/><rect x="831" y="19" width="2" height="1"/><rect x="831" y="17" width="2" height="1"/><rect x="831" y="15" width="2" height="1"/><rect x="831" y="12" width="2" height="1"/><rect x="831" y="10" width="2" height="1"/><rect x="831" y="8" width="5" height="1"/><rect x="831" y="6" width="2" height="1"/><rect x="831" y="526" width="5" height="1"/><rect x="831" y="523" width="2" height="1"/><rect x="831" y="521" width="2" height="1"/><rect x="831" y="518" width="2" height="1"/><rect x="831" y="515" width="2" height="1"/><rect x="831" y="512" width="2" height="1"/><rect x="831" y="509" width="2" height="1"/><rect x="831" y="507" width="5" height="1"/><rect x="831" y="504" width="2" height="1"/><rect x="831" y="501" width="2" height="1"/><rect x="831" y="498" width="2" height="1"/><rect x="831" y="495" width="2" height="1"/><rect x="831" y="493" width="2" height="1"/><rect x="831" y="490" width="2" height="1"/><rect x="831" y="487" width="5" height="1"/><rect x="831" y="484" width="2" height="1"/><rect x="831" y="481" width="2" height="1"/><rect x="831" y="479" width="2" height="1"/><rect x="831" y="476" width="2" height="1"/><rect x="831" y="473" width="2" height="1"/><rect x="831" y="470" width="2" height="1"/><rect x="831" y="467" width="5" height="1"/><rect x="831" y="465" width="2" height="1"/><rect x="831" y="462" width="2" height="1"/><rect x="831" y="459" width="2" height="1"/><rect x="831" y="456" width="2" height="1"/><rect x="831" y="453" width="2" height="1"/><rect x="831" y="451" width="2" height="1"/><rect x="831" y="448" width="5" height="1"/><rect x="831" y="445" width="2" height="1"/><rect x="831" y="442" width="2" height="1"/><rect x="831" y="439" width="2" height="1"/><rect x="831" y="437" width="2" height="1"/><rect x="831" y="434" width="2" height="1"/><rect x="831" y="431" width="2" height="1"/><rect x="831" y="428" width="5" height="1"/><rect x="831" y="425" width="2" height="1"/><rect x="831" y="423" width="2" height="1"/><rect x="831" y="420" width="2" height="1"/><rect x="831" y="417" width="2" height="1"/></g><g fill="#1a1a1a" stroke="#1a1a1a"><text x="839.5" y="12.9" letter-spacing="-0.15">2 200,00</text><text x="839.5" y="34.1" letter-spacing="-0.15">2 000,00</text><text x="839.5" y="57.6" letter-spacing="-0.15">1 800,00</text><text x="839.5" y="113.5" letter-spacing="-0.15">1 400,00</text><text x="839.5" y="147.9" letter-spacing="-0.15">1 200,00</text><text x="839.5" y="188.5" letter-spacing="-0.15">1 000,00</text><text x="839.5" y="238.2" letter-spacing="-0.15">800,00</text><text x="839.5" y="302.2" letter-spacing="-0.15">600,00</text><text x="839.5" y="392.5" letter-spacing="-0.15">400,00</text><text x="839.5" y="432.2" letter-spacing="-0.15">80,00</text><text x="839.5" y="471.4" letter-spacing="-0.15">60,00</text><text x="839.5" y="510.6" letter-spacing="-0.15">40,00</text></g><rect x="830.5" y="72.5" width="50" height="17" fill="#f5f3df" stroke="#000" stroke-width="1" shape-rendering="crispEdges"/><text x="835" y="85" fill="#000" stroke="#000" letter-spacing="-0.25">1 595,24</text><rect x="830.5" y="439.5" width="35" height="17" fill="#fcf1e4" stroke="#b8202c" stroke-width="1" shape-rendering="crispEdges"/><text x="834.3" y="451.5" fill="#c8283a" stroke="#c8283a">70,00</text><rect x="830.5" y="478.5" width="35" height="17" fill="#fcf1e4" stroke="#b8202c" stroke-width="1" shape-rendering="crispEdges"/><text x="834.3" y="490.5" fill="#c8283a" stroke="#c8283a">50,00</text><g shape-rendering="crispEdges" fill="none" stroke="#000"><rect x="802.5" y="4.5" width="10" height="8"/><rect x="802" y="4" width="11" height="2" fill="#000" stroke="none"/><rect x="802.5" y="417.5" width="10" height="8"/><rect x="802" y="417" width="11" height="2" fill="#000" stroke="none"/></g><path d="M819,418 L826,425 M826,418 L819,425" stroke="#000" stroke-width="2" fill="none"/><g><defs><linearGradient id="gold" x1="0" y1="0" x2="1" y2="1"><stop offset="0" stop-color="#fffbe6"/><stop offset="0.45" stop-color="#f8dc90"/><stop offset="1" stop-color="#e2b030"/></linearGradient></defs><rect x="26" y="3" width="16" height="16" fill="#9c9c9c"/><rect x="26.5" y="3.5" width="15" height="15" fill="none" stroke="#8a8a8a" stroke-width="1"/><g transform="translate(34,11) rotate(-40)"><rect x="-8" y="-4" width="16" height="8.5" rx="2.2" fill="url(#gold)" stroke="#7a6630" stroke-width="0.8"/><rect x="-7" y="1.5" width="14" height="2.2" rx="1" fill="#eabe3c" opacity="0.8"/></g></g><text x="43.3" y="14" fill="#1c1c28" stroke="#1c1c28">XAUUSD Mensuel</text><path d="M135.5,8.5 h6 l-3,3 z" fill="#000"/><text x="27.6" y="426.3" fill="#1c1c1c" stroke="#1c1c1c">Le RSI 14 Lissé(e)s</text><path d="M126,422 h6 l-3,3 z" fill="#000"/><text x="142.5" y="426.3" fill="#d42030" stroke="#d42030">Le RSI 14 Lissé(e)s MM 14</text><path d="M277.5,422 h6 l-3,3 z" fill="#d42030"/><text x="293.9" y="426.3" fill="#2a8a2a" stroke="#2a8a2a">Le RSI 14 Lissé(e)s MM 14 MM 5</text><path d="M459.5,422 h6 l-3,3 z" fill="#2a8a2a"/><g shape-rendering="crispEdges" fill="#000"><rect x="25" y="529" width="1" height="30"/><rect x="120" y="529" width="1" height="30"/><rect x="216" y="529" width="1" height="30"/><rect x="311" y="529" width="1" height="30"/><rect x="407" y="529" width="1" height="30"/><rect x="502" y="529" width="1" height="30"/><rect x="598" y="529" width="1" height="30"/><rect x="693" y="529" width="1" height="30"/><rect x="41" y="529" width="1" height="15"/><rect x="65" y="529" width="1" height="15"/><rect x="88" y="529" width="1" height="15"/><rect x="136" y="529" width="1" height="15"/><rect x="160" y="529" width="1" height="15"/><rect x="184" y="529" width="1" height="15"/><rect x="232" y="529" width="1" height="15"/><rect x="256" y="529" width="1" height="15"/><rect x="279" y="529" width="1" height="15"/><rect x="327" y="529" width="1" height="15"/><rect x="351" y="529" width="1" height="15"/><rect x="375" y="529" width="1" height="15"/><rect x="423" y="529" width="1" height="15"/><rect x="446" y="529" width="1" height="15"/><rect x="470" y="529" width="1" height="15"/><rect x="518" y="529" width="1" height="15"/><rect x="542" y="529" width="1" height="15"/><rect x="566" y="529" width="1" height="15"/><rect x="614" y="529" width="1" height="15"/><rect x="637" y="529" width="1" height="15"/><rect x="661" y="529" width="1" height="15"/><rect x="709" y="529" width="1" height="15"/><rect x="725" y="529" width="1" height="15"/><rect x="741" y="529" width="1" height="15"/><rect x="757" y="529" width="1" height="15"/><rect x="773" y="529" width="1" height="15"/><rect x="789" y="529" width="1" height="15"/><rect x="805" y="529" width="1" height="15"/><rect x="820" y="529" width="1" height="15"/></g><g fill="#1a1a1a" stroke="#1a1a1a"><text x="-2" y="541">sept.</text><text x="-3" y="556">2005</text><text x="69" y="541" letter-spacing="0.3">juin</text><text x="92" y="541">sept.</text><text x="72.5" y="556" text-anchor="middle">2006</text><text x="164" y="541" letter-spacing="0.3">juin</text><text x="188" y="541">sept.</text><text x="168.0" y="556" text-anchor="middle">2007</text><text x="260" y="541" letter-spacing="0.3">juin</text><text x="283" y="541">sept.</text><text x="263.5" y="556" text-anchor="middle">2008</text><text x="355" y="541" letter-spacing="0.3">juin</text><text x="379" y="541">sept.</text><text x="359.0" y="556" text-anchor="middle">2009</text><text x="450" y="541" letter-spacing="0.3">juin</text><text x="474" y="541">sept.</text><text x="454.5" y="556" text-anchor="middle">2010</text><text x="546" y="541" letter-spacing="0.3">juin</text><text x="570" y="541">sept.</text><text x="550.0" y="556" text-anchor="middle">2011</text><text x="641" y="541" letter-spacing="0.3">juin</text><text x="665" y="541">sept.</text><text x="645.5" y="556" text-anchor="middle">2012</text><text x="713" y="541">mars</text><text x="760" y="556" text-anchor="middle">2013</text></g></svg>
</body></html>
